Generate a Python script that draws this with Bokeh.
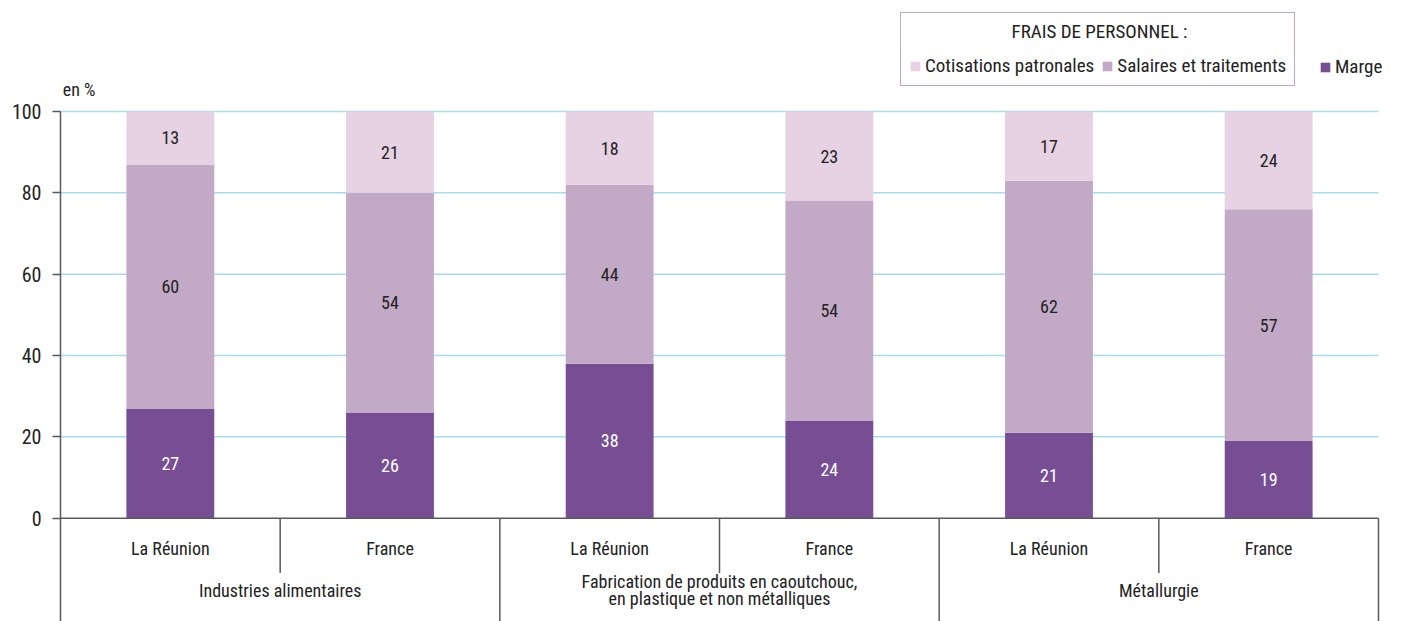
import numpy as np
from bokeh.plotting import figure
from bokeh.models import (ColumnDataSource, Range1d, FixedTicker, Legend,
                          LegendItem, Label)
from bokeh.core.properties import value
from bokeh.embed import file_html
from bokeh.resources import INLINE

# ---------------- data ----------------
groups = ["Industries alimentaires",
          "Fabrication de produits en caoutchouc,\nen plastique et non métalliques",
          "Métallurgie"]
zones = ["La Réunion", "France"]
marge = [27, 26, 38, 24, 21, 19]
salaires = [60, 54, 44, 54, 62, 57]
cotisations = [13, 21, 18, 23, 17, 24]
yticks = [0, 20, 40, 60, 80, 100]
legend_title = "FRAIS DE PERSONNEL :"

FONT = "Liberation Sans Narrow, Roboto Condensed, sans-serif"
C_MARGE = "#774E94"
C_SAL = "#C2AAC7"
C_COT = "#E6D2E3"
C_TEXT = "#222222"
C_AXIS = "#5a5a5a"
C_GRID = "#A6DCF2"

Y_MIN = -25.4
Y_MAX = 127.3
n = len(marge)
X_MAX = n + 23.0 / 219.6  # extra room on the right for the legend text

xc = np.arange(n) + 0.5
m = np.array(marge, float)
s = np.array(salaires, float)
c = np.array(cotisations, float)
b0 = np.zeros(n)
t0 = m
t1 = m + s
t2 = np.minimum(t1 + c, 100)

src = ColumnDataSource(dict(x=xc, b0=b0, t0=t0, t1=t1, t2=t2))

p = figure(width=1401, height=621, x_range=Range1d(0, X_MAX), y_range=Range1d(Y_MIN, Y_MAX),
           output_backend="svg", toolbar_location=None, x_axis_location=None,
           min_border_left=60, min_border_right=0, min_border_top=0,
           min_border_bottom=0, outline_line_color=None)

# grid (drawn only across the category span)
p.xgrid.visible = False
p.ygrid.visible = False
grid_y = [t for t in yticks if t > 0]
p.segment(x0=[0] * len(grid_y), x1=[n] * len(grid_y), y0=grid_y, y1=grid_y,
          line_color=C_GRID, line_width=1.5, level="underlay")

# y axis
ax = p.yaxis[0]
ax.ticker = FixedTicker(ticks=yticks)
ax.bounds = (Y_MIN, 100)
ax.axis_line_color = C_AXIS
ax.axis_line_width = 1.5
ax.major_tick_line_color = C_AXIS
ax.major_tick_line_width = 1.5
ax.major_tick_out = 8
ax.major_tick_in = 0
ax.minor_tick_line_color = None
ax.major_label_text_font = FONT
ax.major_label_text_font_size = "20px"
ax.major_label_text_color = C_TEXT
ax.major_label_standoff = 11

# bars
w = 0.4
r_m = p.vbar(x="x", bottom="b0", top="t0", width=w, source=src, fill_color=C_MARGE, line_color=None)
r_s = p.vbar(x="x", bottom="t0", top="t1", width=w, source=src, fill_color=C_SAL, line_color=None)
r_c = p.vbar(x="x", bottom="t1", top="t2", width=w, source=src, fill_color=C_COT, line_color=None)

# zero line
p.segment(x0=[0], x1=[n], y0=[0], y1=[0], line_color=C_AXIS, line_width=1.5)

# value labels
lab_x = np.concatenate([xc, xc, xc])
lab_y = np.concatenate([(b0 + t0) / 2, (t0 + t1) / 2, (t1 + t2) / 2])
lab_t = [str(v) for v in marge + salaires + cotisations]
lab_c = ["white"] * n + [C_TEXT] * (2 * n)
p.text(x=lab_x, y=lab_y, text=lab_t, text_color=lab_c, text_align="center",
       text_baseline="middle", text_font_size="18px", text_font=value(FONT))

# category axis (manual)
sub_x = [i + 0.5 for i in range(n)]
sub_t = [zones[i % 2] for i in range(n)]
p.text(x=sub_x, y=[-7.4] * n, text=sub_t, text_align="center", text_baseline="middle",
       text_font_size="18px", text_font=value(FONT), text_color=C_TEXT)
grp_x = [2 * g + 1 for g in range(len(groups))]
p.text(x=grp_x, y=[-17.7] * len(groups), text=groups, text_align="center",
       text_baseline="middle", text_font_size="18px", text_font=value(FONT),
       text_color=C_TEXT, text_line_height=0.8)
sep_minor = [2 * g + 1 for g in range(len(groups))]
p.segment(x0=sep_minor, x1=sep_minor, y0=[0] * 3, y1=[-13.5] * 3, line_color=C_AXIS, line_width=1.5)
sep_major = [2 * (g + 1) for g in range(len(groups))]
p.segment(x0=sep_major, x1=sep_major, y0=[0] * 3, y1=[Y_MIN] * 3, line_color=C_AXIS, line_width=1.5)

# unit label
p.add_layout(Label(x=0.01, y=105.5, text="en %", text_font=FONT, text_font_size="18px",
                   text_color=C_TEXT, text_baseline="middle"))

# legend title centred over the bordered block
p.add_layout(Label(x=4.73, y=119.6, text=legend_title, text_font=FONT, text_font_size="19px",
                   text_color=C_TEXT, text_align="center", text_baseline="middle"))

# legends
leg1 = Legend(items=[LegendItem(label="Cotisations patronales", renderers=[r_c]),
                     LegendItem(label="Salaires et traitements", renderers=[r_s])],
              orientation="horizontal", location=(840, 535),
              title="\u00a0", title_text_font=FONT, title_text_font_size="19px",
              title_text_font_style="normal", title_text_color=C_TEXT, title_standoff=10,
              label_text_font=FONT, label_text_font_size="19px", label_text_color=C_TEXT,
              glyph_width=12, glyph_height=12, label_standoff=4, spacing=7, padding=8,
              margin=0, border_line_color="#7B4F9A", border_line_width=1,
              background_fill_alpha=0)
leg2 = Legend(items=[LegendItem(label="Marge", renderers=[r_m])],
              orientation="horizontal", location=(1259, 543),
              label_text_font=FONT, label_text_font_size="19px", label_text_color=C_TEXT,
              glyph_width=12, glyph_height=12, label_standoff=4, padding=0, margin=0,
              border_line_color=None, background_fill_alpha=0)
p.add_layout(leg1, "center")
p.add_layout(leg2, "center")

open("out.html", "w").write(file_html(p, INLINE))
